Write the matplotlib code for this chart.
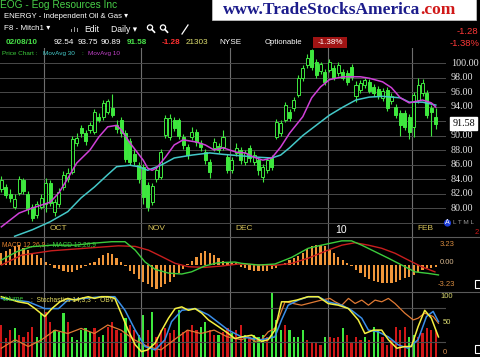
import matplotlib
matplotlib.use("Agg")
import matplotlib.pyplot as plt
from matplotlib.patches import Rectangle, Circle

plt.rcParams['font.family'] = ['Liberation Sans', 'DejaVu Sans']

# ---- price data (daily bars, mid Sep 2009 .. 02/08/10) ----
opens = [82.6, 82.9, 82.0, 80.2, 82.1, 83.8, 82.0, 80.1, 79.0, 80.2,
         80.5, 83.4, 79.5, 80.6, 82.9, 84.0, 85.0, 89.0, 91.0, 90.4,
         90.8, 90.5, 92.6, 92.6, 93.3, 93.8, 91.5, 92.1, 90.3, 89.2,
         87.5, 85.9, 85.6, 83.2, 80.8, 84.0, 84.3, 90.1, 89.8, 92.1,
         92.1, 89.8, 88.4, 89.8, 90.5, 89.0, 87.7, 86.3, 88.3, 88.6,
         88.4, 87.0, 85.2, 87.6, 88.0, 86.3, 88.3, 86.3, 86.6, 84.3,
         85.2, 86.9, 89.8, 90.3, 92.1, 93.2, 93.8, 95.6, 97.9, 99.7,
         101.8, 100.1, 98.9, 98.8, 99.0, 99.3, 98.6, 98.8, 98.6, 99.4,
         95.4, 96.3, 96.9, 97.4, 96.7, 96.4, 95.2, 96.3, 94.7, 94.0,
         93.1, 93.1, 92.6, 91.2, 94.9, 95.9, 95.9, 93.8, 92.54]
closes = [83.8, 81.8, 81.4, 81.3, 84.0, 82.3, 79.8, 78.6, 80.5, 81.4,
          83.5, 80.7, 80.8, 82.2, 84.6, 84.8, 89.5, 89.7, 90.3, 89.2,
          91.4, 93.2, 92.2, 94.5, 94.7, 92.8, 90.9, 90.3, 86.8, 86.4,
          86.5, 84.0, 81.5, 80.2, 83.0, 85.2, 87.7, 92.4, 92.4, 91.0,
          90.0, 88.7, 87.3, 90.5, 89.1, 88.4, 86.6, 85.0, 89.1, 88.0,
          89.8, 85.2, 86.6, 88.3, 86.6, 87.6, 86.9, 87.3, 85.2, 85.6,
          86.6, 85.7, 91.9, 91.7, 94.2, 92.4, 94.9, 97.9, 99.3, 100.7,
          99.4, 98.3, 99.8, 97.4, 100.1, 98.0, 99.7, 98.0, 97.4, 98.1,
          97.0, 97.3, 97.6, 96.2, 95.9, 95.5, 96.2, 93.8, 95.5, 92.8,
          91.4, 91.2, 90.5, 95.6, 97.0, 97.2, 92.8, 93.2, 91.58]
highs = [84.4, 83.3, 82.6, 81.9, 84.4, 84.2, 82.4, 80.5, 81.0, 81.9,
         84.2, 83.8, 81.3, 82.8, 85.1, 85.5, 89.9, 90.3, 91.4, 90.8,
         91.9, 93.6, 93.1, 94.9, 95.1, 95.7, 92.1, 92.6, 90.7, 89.7,
         88.1, 86.4, 86.1, 83.6, 83.5, 85.6, 88.1, 92.8, 92.9, 92.6,
         92.4, 90.2, 88.8, 91.2, 90.9, 89.4, 88.1, 86.7, 89.6, 89.0,
         90.8, 87.4, 87.1, 88.9, 88.4, 88.0, 88.7, 87.8, 87.0, 86.1,
         87.1, 87.3, 92.3, 92.2, 94.6, 93.6, 95.3, 98.3, 99.7, 101.2,
         102.0, 100.5, 100.2, 99.2, 100.5, 99.7, 100.1, 99.2, 99.0, 99.8,
         97.5, 97.7, 98.0, 97.8, 97.1, 96.8, 96.6, 96.7, 95.9, 94.4,
         93.5, 93.5, 93.0, 96.0, 98.0, 97.8, 96.3, 94.2, 93.75]
lows = [82.2, 81.4, 80.8, 79.8, 81.8, 81.9, 79.2, 78.2, 78.6, 79.8,
        79.5, 80.3, 78.9, 80.2, 82.5, 83.6, 84.7, 88.6, 89.8, 88.7,
        90.3, 90.2, 91.8, 92.2, 93.0, 92.5, 90.3, 89.8, 86.3, 86.0,
        86.0, 83.5, 80.6, 79.6, 80.4, 83.6, 84.0, 89.7, 89.4, 90.6,
        89.5, 88.2, 86.8, 89.4, 88.6, 87.9, 86.1, 84.1, 87.9, 87.6,
        88.0, 84.8, 84.8, 87.2, 86.1, 85.9, 86.4, 85.9, 84.6, 83.6,
        84.8, 85.3, 89.5, 90.0, 91.8, 92.0, 93.4, 95.3, 97.5, 99.3,
        99.0, 97.9, 98.5, 97.0, 98.7, 97.6, 98.2, 97.6, 97.0, 97.7,
        94.6, 95.9, 96.5, 95.8, 95.5, 95.1, 94.8, 93.4, 94.3, 92.4,
        90.0, 90.8, 89.5, 89.8, 94.5, 95.5, 92.4, 90.0, 90.89]

# moving averages (bar position, value)
ma10_x = [0, 4, 7, 9, 11, 13, 15, 17, 20, 22, 24, 26, 27, 29, 32, 33, 34, 35, 37, 39,
          41, 44, 46, 48, 50, 53, 55, 57, 59, 61, 63, 65, 68, 70, 72, 74, 77, 79, 81, 83,
          86, 88, 90, 92, 95, 97, 98]
ma10_v = [77.4, 79.3, 80.0, 80.4, 80.8, 82.1, 84.1, 86.2, 88.0, 89.8, 91.2, 91.4, 90.8, 89.0,
          86.6, 85.5, 85.2, 85.5, 87.0, 88.7, 89.4, 89.1, 88.7, 88.0, 88.3, 87.7, 87.6, 87.0,
          86.6, 86.9, 88.4, 90.3, 92.6, 95.2, 96.7, 97.7, 98.1, 98.1, 98.1, 97.9, 97.4, 96.6,
          95.2, 94.5, 94.9, 94.5, 93.9]
ma30_x = [3, 7, 11, 15, 18, 21, 24, 26, 29, 31, 33, 36, 39, 43, 47, 50, 54, 58, 61, 63,
          65, 68, 71, 74, 77, 80, 83, 86, 90, 92, 95, 98]
ma30_v = [76.1, 77.0, 78.1, 79.5, 81.4, 82.9, 84.6, 85.7, 85.9, 85.7, 85.2, 85.9, 86.9, 87.3,
          87.6, 87.4, 87.2, 87.0, 86.9, 87.3, 88.3, 90.0, 91.4, 92.8, 93.9, 94.9, 95.3, 95.4,
          95.2, 94.6, 94.6, 94.2]

# ---- MACD 12,26,9 ----
macd_hist = [1.9, 2.3, 2.6, 3.1, 3.2, 2.8, 2.4, 2.0, 1.6, 1.1,
             0.5, 0.15, -0.4, -0.7, -0.9, -1.1, -1.1, -0.8, -0.5, -0.2,
             0.3, 0.5, 1.1, 1.6, 2.0, 1.8, 1.1, 0.5, -0.2, -0.9,
             -1.5, -2.2, -2.7, -3.1, -3.6, -3.8, -3.5, -3.1, -2.7, -2.0,
             -1.3, -0.7, 0.15, 0.7, 1.3, 2.0, 2.2, 2.0, 1.6, 1.1,
             0.7, 0.5, 0.4, 0.3, -0.3, -0.5, -0.8, -0.9, -1.0, -1.0,
             -0.9, -0.7, -0.4, 0.1, 0.4, 0.75, 1.1, 1.5, 2.0, 2.6,
             3.0, 3.2, 3.2, 3.0, 2.4, 1.9, 1.3, 0.8, 0.3, -0.15,
             -0.8, -1.3, -1.9, -2.3, -2.5, -2.7, -2.85, -2.85, -2.85, -2.7,
             -2.4, -2.15, -1.9, -1.6, -1.2, -0.8, -0.5, -0.4, -0.3]
macd_x = [0, 3.5, 6.8, 11.3, 16.6, 20.4, 24.9, 27.9, 30.2, 32.4, 34.7, 37.7, 40.7, 42.9, 45.9,
          48.9, 52.7, 54.2, 58, 61.7, 65.5, 69.2, 72.2, 76.8, 79, 81.3, 84.3, 87.3, 90.3,
          93.3, 96.3, 98.6]
macd_v = [0.8, 2.15, 2.96, 3.2, 3.2, 3.5, 3.76, 3.76, 2.4, 0.5, -0.7, -1.3, -1.45, -1.1, -0.15,
          0.38, 0.48, 0.27, 0.0, 0.16, 1.24, 2.7, 3.2, 3.9, 3.9, 3.2, 2.15, 1.1, 0.0, -1.1,
          -1.35, -1.6]
sig_x = [0, 4.6, 11.3, 18.9, 26.4, 30.2, 33.2, 36.2, 39.2, 42.2, 45.9, 49.7, 53.5, 58, 61.7,
         65.5, 69.2, 73.7, 76.8, 79.8, 82.8, 85.8, 88.8, 91.8, 94.8, 97.8]
sig_v = [0.0, 1.6, 2.3, 2.7, 3.1, 3.0, 2.4, 1.35, 0.27, -0.27, -0.38, -0.16, 0.16, 0.05, -0.05,
         0.27, 1.1, 2.4, 3.2, 3.6, 3.2, 2.7, 1.9, 0.8, -0.27, -1.1]

# ---- Volume (hundreds) / Stochastics 14,3,3 / OBV ----
volume = [25300, 14700, 21300, 22600, 17400, 16100, 20000, 23900, 16100, 34500,
          35800, 27900, 21300, 20000, 34500, 27900, 16100, 13400, 21300, 22600,
          20000, 22600, 16100, 17400, 23900, 27900, 21300, 18700, 30500, 25300,
          21300, 17400, 33100, 21300, 35800, 16100, 21300, 22600, 18700, 21300,
          37100, 20000, 21300, 25300, 21300, 23900, 27900, 21300, 17400, 17400,
          20000, 22600, 18700, 21300, 25300, 17400, 16100, 17400, 16100, 17400,
          16100, 51500, 29200, 21300, 25300, 21300, 16100, 16100, 21300, 13400,
          12100, 10800, 9500, 16100, 16100, 14700, 16100, 22600, 17400, 10800,
          16100, 13400, 16100, 13400, 23900, 21300, 16100, 9500, 13400, 23900,
          21300, 23900, 16100, 17400, 16100, 18700, 22600, 21300, 21303]
vol_up = [0, 0, 0, 1, 0, 0, 0, 0, 1, 1,
          0, 0, 1, 1, 1, 0, 1, 1, 1, 1,
          1, 0, 0, 1, 0, 0, 0, 0, 1, 0,
          0, 1, 1, 0, 1, 0, 0, 0, 0, 0,
          1, 0, 0, 0, 0, 1, 1, 0, 0, 1,
          0, 0, 1, 0, 0, 1, 0, 1, 1, 1,
          0, 1, 1, 1, 0, 1, 1, 1, 1, 0,
          0, 0, 0, 1, 0, 0, 0, 1, 0, 0,
          0, 0, 1, 0, 1, 1, 0, 0, 0, 0,
          0, 0, 1, 1, 0, 0, 0, 0, 0]
stk_x = [0, 3.8, 6, 7.6, 9.8, 11.4, 13.2, 15, 16.6, 18, 19.6, 21, 22.6, 24.1, 25.6, 27, 28.6,
         30.2, 31.6, 33, 34.7, 36.2, 37.7, 39.2, 40.7, 42.2, 43.7, 45.2, 46.7, 49, 51.2, 52.7,
         54.2, 56.5, 58.7, 60.2, 61.7, 63.2, 64.7, 66.6, 69.2, 71.5, 73.7, 76, 78.3, 80.5, 82,
         83.9, 85.8, 87.3, 89.2, 91, 92.5, 94, 95.5, 97, 98.6]
stk_v = [100, 91, 88, 79, 65, 79, 91, 97, 94, 97, 100, 97, 100, 100, 97, 71, 41, 15, 3, 6,
         18, 41, 62, 79, 82, 76, 79, 71, 59, 47, 35, 26, 29, 32, 21, 24, 41, 91, 91, 94,
         100, 100, 88, 85, 79, 59, 35, 41, 41, 24, 9, 12, 12, 47, 76, 62, 29]
std_x = [0, 6.1, 9.8, 12.9, 15, 22.5, 25.6, 27.9, 30.2, 32.4, 34.7, 36.9, 38.4, 40.7, 43.7,
         46.7, 51.2, 54.2, 58.7, 61.7, 63.2, 64.7, 67, 69.2, 71.5, 73.7, 76.8, 79, 81.3, 82.8,
         85, 87.3, 89.5, 91.8, 94, 95.9, 97.4, 98.6]
std_v = [97, 91, 79, 79, 94, 100, 100, 76, 41, 12, 6, 24, 56, 76, 79, 68, 41, 29, 24, 29,
         59, 85, 94, 100, 100, 91, 85, 76, 62, 41, 38, 29, 15, 9, 24, 65, 74, 56]
obv_x = [0, 3.1, 6.1, 9.1, 12.1, 15, 18, 21, 24, 27, 30, 33, 36, 39, 42, 45, 48, 51, 54.2,
         55.7, 57.2, 58.7, 60.2, 61.7, 64, 67.7, 72.2, 74.1, 75.3, 76.8, 78.3, 79.8, 81.3,
         82.8, 84.3, 85.8, 87.3, 88.8, 91, 92.9, 94, 95.5, 97.4, 98.6]
obv_v = [9, 24, 12, 24, 41, 35, 44, 35, 50, 41, 24, 12, 6, 24, 41, 35, 41, 29, 24,
         29, 21, 24, 38, 44, 91, 85, 94, 97, 91, 85, 97, 88, 94,
         85, 94, 91, 97, 88, 71, 59, 62, 71, 65, 53]

month_idx = [10, 32, 52, 74, 93]
month_lbl = ["OCT", "NOV", "DEC", "10", "FEB"]

W, H = 480, 360
GREEN = "#3ee83e"
VGRID = "#6e6e6e"
HGRID = "#4a4a4a"

fig = plt.figure(figsize=(4.8, 3.6), dpi=100, facecolor="black")


def panel(top, bottom):
    ax = fig.add_axes([0, 1 - bottom / H, 446 / W, (bottom - top) / H])
    ax.set_facecolor("black")
    ax.set_xlim(-0.3, 100.3)
    ax.set_xticks([])
    ax.set_yticks([])
    for s in ax.spines.values():
        s.set_visible(False)
    for m in month_idx:
        ax.axvline(m - 0.4, color=VGRID, lw=0.8, zorder=0)
    return ax


# price chart
ax_p = panel(48, 237)
ax_p.set_ylim(76.0, 102.07)
for lvl in range(78, 102, 2):
    ax_p.axhline(lvl, color=HGRID, lw=0.7, zorder=0)
n = len(closes)
idx = list(range(n))
ax_p.vlines(idx, lows, highs, color=GREEN, lw=0.8, zorder=2)
body_lo = [min(o, c) for o, c in zip(opens, closes)]
body_h = [max(abs(c - o), 0.12) for o, c in zip(opens, closes)]
faces = [GREEN if c < o else "black" for o, c in zip(opens, closes)]
ax_p.bar(idx, body_h, bottom=body_lo, width=0.68, color=faces, edgecolor=GREEN,
         linewidth=0.7, zorder=3)
ax_p.plot(ma30_x, ma30_v, color="#44c8c8", lw=1.1, zorder=4)
ax_p.plot(ma10_x, ma10_v, color="#d040d8", lw=1.1, zorder=4)
for m, lbl in zip(month_idx, month_lbl):
    if lbl == "10":
        ax_p.text(m + 1.3, 77.0, lbl, color="white", fontsize=7.5, va="center")
    else:
        ax_p.text(m + 0.9, 77.2, lbl, color="#d8c45c", fontsize=6, va="center")
ytr = ax_p.get_yaxis_transform()
for lvl in range(80, 101, 2):
    if lvl == 92:
        continue  # hidden under the last-price box
    ax_p.text(1.011, lvl, f"{lvl:.2f}", transform=ytr, color="#e4e4e4", fontsize=7.3,
              family="Liberation Serif", va="center", clip_on=False)
ax_p.text(1.014, 91.7, "91.58", transform=ytr, color="black", fontsize=7.3,
          family="Liberation Serif", va="center", clip_on=False, zorder=6,
          bbox=dict(boxstyle="square,pad=0.2", facecolor="white", edgecolor="white"))

# MACD
ax_m = panel(237, 292)
ax_m.set_ylim(-4.35, 4.52)
ax_m.bar(idx, macd_hist, width=0.5, color="#f0963a", zorder=2)
ax_m.plot(sig_x, sig_v, color="#c81e1e", lw=1.0, zorder=3)
ax_m.plot(macd_x, macd_v, color="#3ccc3c", lw=1.0, zorder=4)
ax_m.text(0.005, 0.87, "MACD 12,26,9", transform=ax_m.transAxes, color="#e0802c",
          fontsize=4.8, va="center")
ax_m.text(0.105, 0.87, ":  MACD 12,26,9", transform=ax_m.transAxes, color="#3ccc3c",
          fontsize=4.8, va="center")

# Volume + Stochastics
ax_s = panel(292, 357)
ax_s.set_ylim(-6.5, 108.3)
ax_s.axhline(80, color=HGRID, lw=0.8, zorder=0)
ax_s.axhline(20, color=HGRID, lw=0.8, zorder=0)
ax_v = ax_s.twinx()
ax_v.set_ylim(0, 51300)
ax_v.set_yticks([])
for s in ax_v.spines.values():
    s.set_visible(False)
ax_v.set_zorder(ax_s.get_zorder() - 1)
ax_s.patch.set_visible(False)
vcols = ["#3ee83e" if u else "#d01818" for u in vol_up]
ax_v.bar(idx, volume, width=0.5, color=vcols)
ax_s.plot(obv_x, obv_v, color="#e07a34", lw=0.9, zorder=3)
ax_s.plot(std_x, std_v, color="#3a8ee8", lw=1.1, zorder=4)
ax_s.plot(stk_x, stk_v, color="#f4f040", lw=1.1, zorder=5)
ax_s.text(0.005, 0.88, "Volume", transform=ax_s.transAxes, color="#3ccc3c",
          fontsize=4.8, va="center", zorder=6)
ax_s.text(0.07, 0.88, ":  Stochastics 14,3,3  :  OBV", transform=ax_s.transAxes,
          color="#e8e060", fontsize=4.8, va="center", zorder=6)

# overlay in pixel coordinates for header, side labels and boxes
ov = fig.add_axes([0, 0, 1, 1], zorder=10)
ov.set_xlim(0, W)
ov.set_ylim(H, 0)
ov.axis("off")
ov.patch.set_visible(False)

ov.plot([0, 480], [237, 237], color="#5a5a5a", lw=0.8)
ov.plot([0, 480], [292, 292], color="#5a5a5a", lw=0.8)
ov.add_patch(Rectangle((0, 357), 480, 3, facecolor="white", edgecolor="none"))

ov.add_patch(Rectangle((212, -1), 264, 21, facecolor="white", edgecolor="#cccccc", lw=0.5))
ov.text(420, 10.5, "www.TradeStocksAmerica", color="#1c1c8c", fontsize=12.5,
        family="Liberation Serif", weight="bold", ha="right", va="center")
ov.text(420, 10.5, ".com", color="#d01818", fontsize=12.5,
        family="Liberation Serif", weight="bold", ha="left", va="center")

ov.text(0, 5, "EOG - Eog Resources Inc", color="#48d048", fontsize=7.3, va="center")
ov.text(4, 16, "ENERGY - Independent Oil & Gas \u25be", color="white", fontsize=5.6,
        va="center")
ov.text(4, 29, "F8 - Mitch1 \u25be", color="white", fontsize=5.8, va="center")
for k, hgt in enumerate([3, 5, 4]):
    ov.add_patch(Rectangle((71 + 3 * k, 32 - hgt), 1.3, hgt, facecolor="#9a9a9a"))
ov.text(84, 29, "Edit", color="white", fontsize=6.2, va="center")
ov.text(111, 29, "Daily \u25be", color="white", fontsize=6.2, va="center")
for cx in (150, 163):
    ov.add_patch(Circle((cx, 27.5), 2.6, facecolor="none", edgecolor="white", lw=0.9))
    ov.plot([cx + 1.9, cx + 4.5], [29.4, 32.2], color="white", lw=1.2)
ov.plot([182, 188], [34, 25], color="white", lw=0.9)

row = [("02/08/10", 6, "#48e048", "bold"), ("92.54", 54, "white", "normal"),
       ("93.75", 78, "white", "normal"), ("90.89", 101, "white", "normal"),
       ("91.58", 127, "#48e048", "bold"), ("-1.28", 162, "#ff3030", "bold"),
       ("21303", 186, "#e0e070", "normal"), ("NYSE", 219, "white", "normal")]
for txt, x0, col, wt in row:
    ov.text(x0, 42, txt, color=col, fontsize=5.9, weight=wt, va="center")

ov.text(2, 53.5, "Price Chart :", color="#3ccc3c", fontsize=4.6, va="center")
ov.text(43, 53.5, "MovAvg 30", color="#44c8c8", fontsize=4.6, va="center")
ov.text(81, 53.5, ":", color="#3ccc3c", fontsize=4.6, va="center")
ov.text(88, 53.5, "MovAvg 10", color="#c040c8", fontsize=4.6, va="center")

ov.text(265, 43, "Optionable", color="white", fontsize=5.6, va="center")
ov.add_patch(Rectangle((313, 37), 34, 11, facecolor="#a01414", edgecolor="none"))
ov.text(330, 42.5, "-1.38%", color="white", fontsize=5.8, ha="center", va="center")
ov.text(478, 31, "-1.28", color="#ff3838", fontsize=6.8, ha="right", va="center")
ov.text(480, 43, "-1.38%", color="#ff3838", fontsize=6.8, ha="right", va="center")

ov.add_patch(Circle((447.5, 223), 3.6, facecolor="#1c3cd8", edgecolor="none"))
ov.text(447.5, 223, "A", color="white", fontsize=5, ha="center", va="center")
ov.text(453, 223, "L T M L", color="#9a9a9a", fontsize=4.6, va="center")
ov.text(475, 233, "2", color="#d01818", fontsize=5.5, va="center")

ov.text(440, 245, "3.23", color="#d88c40", fontsize=5.5, va="center")
ov.text(440, 263, "0.00", color="#d8b890", fontsize=5.5, va="center")
ov.text(438, 285, "-3.23", color="#d88c40", fontsize=5.5, va="center")
ov.text(440, 297, "100", color="#d8d870", fontsize=5.5, va="center")
ov.text(443, 323, "50", color="#d8d870", fontsize=5.5, va="center")
ov.text(443, 353, "0", color="#d89050", fontsize=5.5, va="center")
for yb in (280, 345):
    ov.add_patch(Rectangle((475, yb), 6, 8, facecolor="none", edgecolor="white", lw=0.8))

fig.savefig("out.png", dpi=100, facecolor="black")
